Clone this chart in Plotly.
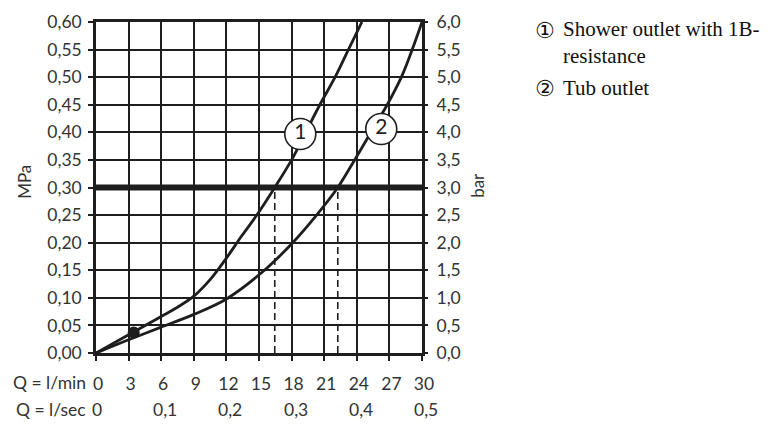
import plotly.graph_objects as go

# ---- data ----
q_ticks = [0, 3, 6, 9, 12, 15, 18, 21, 24, 27, 30]          # l/min
lsec_vals = [0, 0.1, 0.2, 0.3, 0.4, 0.5]                      # l/sec
lsec_text = ["0", "0,1", "0,2", "0,3", "0,4", "0,5"]
mpa_ticks = [0, 0.05, 0.10, 0.15, 0.20, 0.25, 0.30, 0.35, 0.40, 0.45, 0.50, 0.55, 0.60]
bar_ticks = [0, 0.5, 1.0, 1.5, 2.0, 2.5, 3.0, 3.5, 4.0, 4.5, 5.0, 5.5, 6.0]

c1_q = [0, 3, 6, 7.5, 9.0, 10.5, 12.0, 13.4, 14.8, 16.45, 18.0, 19.3, 20.6, 22.0, 23.23, 24.47]
c1_p = [0, 0.033, 0.066, 0.083, 0.103, 0.133, 0.172, 0.212, 0.25, 0.30, 0.35, 0.40, 0.45, 0.50, 0.55, 0.60]

c2_q = [0, 3, 6, 9, 12, 15.5, 18.1, 20.3, 22.25, 23.8, 25.3, 26.8, 28.1, 29.1, 30.0]
c2_p = [0, 0.024, 0.047, 0.07, 0.098, 0.15, 0.20, 0.25, 0.30, 0.35, 0.40, 0.45, 0.50, 0.55, 0.60]

ref_pressure = 0.30
dash_q = [16.45, 22.25]
dot_q, dot_p = [3.47], [0.037]
label_q = [18.8, 26.25]
label_p = [0.397, 0.406]
label_txt = ["1", "2"]

legend_items = ["Shower outlet with 1B-<br>resistance", "Tub outlet"]
legend_marks = ["\u2460", "\u2461"]

INK = "#1e1e1e"
TICKFONT = dict(family="Lato, Noto Sans, sans-serif", size=17.5, color="#333")

fig = go.Figure()

# reference line at 0.30 MPa
fig.add_trace(go.Scatter(x=[0, 30], y=[ref_pressure, ref_pressure], mode="lines",
                         line=dict(color=INK, width=6), hoverinfo="skip", showlegend=False))
# dashed drop lines
for q in dash_q:
    fig.add_trace(go.Scatter(x=[q, q], y=[0, ref_pressure], mode="lines",
                             line=dict(color=INK, width=1.6, dash="7px,4px"),
                             hoverinfo="skip", showlegend=False))
# curves
for cq, cp in ((c1_q, c1_p), (c2_q, c2_p)):
    fig.add_trace(go.Scatter(x=cq, y=cp, mode="lines",
                             line=dict(color=INK, width=2.8, shape="spline", smoothing=1.0),
                             showlegend=False))
# dot
fig.add_trace(go.Scatter(x=dot_q, y=dot_p, mode="markers", marker=dict(color=INK, size=12),
                         showlegend=False))
# numbered circles
fig.add_trace(go.Scatter(x=label_q, y=label_p, mode="markers+text", text=label_txt,
                         textposition="middle center",
                         textfont=dict(family="Lato, Noto Sans, sans-serif", size=21, color=INK),
                         marker=dict(size=31, color="white", line=dict(color=INK, width=1.6)),
                         showlegend=False))
# invisible trace for secondary axis
fig.add_trace(go.Scatter(x=[0], y=[0], yaxis="y2", mode="markers", marker=dict(opacity=0),
                         hoverinfo="skip", showlegend=False))

ann = []
ann.append(dict(text="MPa", xref="paper", yref="paper", x=0, y=0.517, xshift=-71, textangle=-90,
                xanchor="center", yanchor="middle",
                showarrow=False, font=dict(family="Lato, Noto Sans, sans-serif", size=17, color="#333")))
ann.append(dict(text="bar", xref="paper", yref="paper", x=1, y=0.505, xshift=56, textangle=-90,
                xanchor="center", yanchor="middle",
                showarrow=False, font=dict(family="Lato, Noto Sans, sans-serif", size=17, color="#333")))
ann.append(dict(text="Q = l/min", xref="paper", yref="paper", x=0, y=0, xshift=-8, yshift=-29,
                xanchor="right", yanchor="middle", showarrow=False, font=TICKFONT))
ann.append(dict(text="Q = l/sec", xref="paper", yref="paper", x=0, y=0, xshift=-8, yshift=-56,
                xanchor="right", yanchor="middle", showarrow=False, font=TICKFONT))
for v, t in zip(lsec_vals, lsec_text):
    ann.append(dict(text=t, xref="x", yref="paper", x=v * 60, y=0, yshift=-56, xshift=(1 if v == 0 else 4),
                    xanchor="center", yanchor="middle", showarrow=False, font=TICKFONT))
# legend text
leg_y = [30, 88]
for m, t, yy in zip(legend_marks, legend_items, leg_y):
    ann.append(dict(text=m, xref="paper", yref="paper", x=1, y=1, xshift=545 - 422, yshift=-(yy - 22),
                    xanchor="center", yanchor="middle", showarrow=False,
                    font=dict(family="DejaVu Sans", size=22, color="#111")))
    ann.append(dict(text=t, xref="paper", yref="paper", x=1, y=1, xshift=561 - 422,
                    yshift=-(yy - 22) + (-12.5 if "<br>" in t else 0),
                    xanchor="left", yanchor="middle", align="left", showarrow=False,
                    font=dict(family="Liberation Serif", size=21, color="#111")))

axis_common = dict(showline=True, linecolor=INK, linewidth=2.5, mirror=True,
                   ticks="outside", ticklen=5, tickwidth=2, tickcolor=INK,
                   zeroline=False, tickfont=TICKFONT, automargin=False)

fig.update_layout(
    width=768, height=432,
    margin=dict(l=88, r=354, t=14, b=87, autoexpand=False),
    paper_bgcolor="white", plot_bgcolor="white",
    separators=",.",
    showlegend=False,
    xaxis=dict(range=[0, 30], tickvals=q_ticks, showgrid=True, gridcolor=INK, gridwidth=2,
               ticklabelstandoff=8, ticklabelshift=2, **axis_common),
    yaxis=dict(range=[0, 0.6], tickvals=mpa_ticks, tickformat=".2f", showgrid=True, gridcolor=INK,
               gridwidth=2, ticklabelstandoff=3, **axis_common),
    yaxis2=dict(range=[0, 6], tickvals=bar_ticks, tickformat=".1f", overlaying="y", side="right",
                showgrid=False, showline=False, ticks="outside", ticklen=5, tickwidth=2, tickcolor=INK,
                zeroline=False, tickfont=TICKFONT, ticklabelstandoff=5, automargin=False),
    annotations=ann,
)

fig.write_html("out.html")
